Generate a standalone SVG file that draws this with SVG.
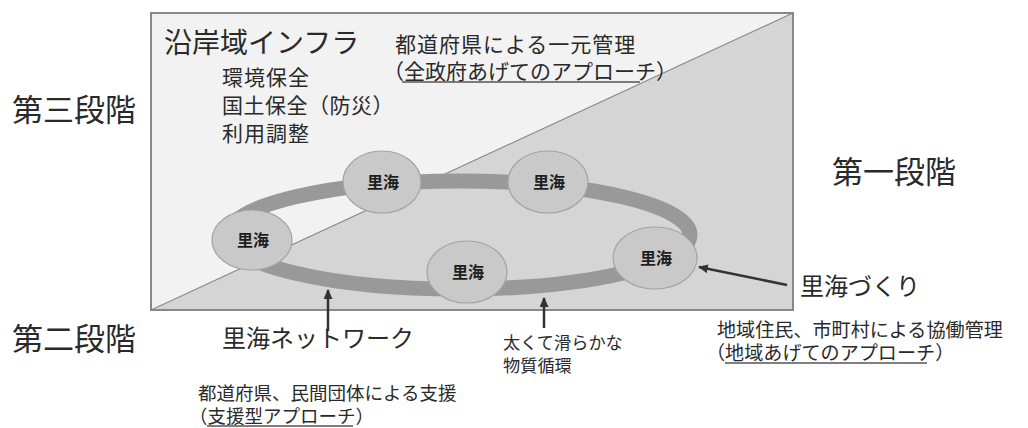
<svg xmlns="http://www.w3.org/2000/svg" width="1028" height="428" viewBox="0 0 1028 428">
<style>
text{font-family:"Liberation Sans","Noto Sans CJK JP",sans-serif;fill:#2a2a2a}
.stage{font-size:31px}
.big{font-size:28px}
.mid{font-size:21px}
.lbl{font-size:24px}
.sm{font-size:18.5px}
.node ellipse{fill:#c9c9c9;stroke:#a3a3a3;stroke-width:1.2}
.node text{font-size:16px;font-weight:bold;text-anchor:middle;fill:#1e1e1e}
.ul{stroke:#555;stroke-width:1.3}
.arr{stroke:#333;stroke-width:2.5;fill:none}
</style>
<defs>
<marker id="ah" markerUnits="userSpaceOnUse" markerWidth="10" markerHeight="9" refX="9" refY="4.5" orient="auto">
<path d="M0,0 L10,4.5 L0,9 z" fill="#333"/>
</marker>
</defs>
<rect width="1028" height="428" fill="#ffffff"/>
<g id="background">
<polygon points="151,13 793,13 151,310" fill="#f2f2f2"/>
<polygon points="793,13 793,310 151,310" fill="#d5d5d5"/>
<line x1="151" y1="310" x2="793" y2="13" stroke="#8a8a8a" stroke-width="1.2"/>
<rect x="151" y="13" width="642" height="297" fill="none" stroke="#888" stroke-width="2"/>
</g>
<g id="ring">
<ellipse cx="459" cy="235" rx="231" ry="54" fill="none" stroke="#999" stroke-width="15"/>
</g>
<g id="node1" class="node"><ellipse cx="382" cy="182" rx="39" ry="31"/><text x="383" y="188">里海</text></g>
<g id="node2" class="node"><ellipse cx="548" cy="182" rx="40" ry="31"/><text x="549" y="188">里海</text></g>
<g id="node3" class="node"><ellipse cx="252" cy="240" rx="40" ry="30"/><text x="253" y="246">里海</text></g>
<g id="node4" class="node"><ellipse cx="467" cy="272" rx="40" ry="31"/><text x="468" y="278">里海</text></g>
<g id="node5" class="node"><ellipse cx="655" cy="258" rx="42" ry="31"/><text x="656" y="264">里海</text></g>
<g id="connectors">
<line class="arr" x1="328" y1="331" x2="328" y2="290" marker-end="url(#ah)"/>
<line class="arr" x1="544" y1="328" x2="544" y2="298" marker-end="url(#ah)"/>
<line class="arr" x1="787" y1="285" x2="699" y2="267" marker-end="url(#ah)"/>
</g>
<g id="labels">
<text class="stage" x="12" y="121">第三段階</text>
<text class="stage" x="832" y="183">第一段階</text>
<text class="stage" x="12" y="350">第二段階</text>
<text class="big" x="164" y="53">沿岸域インフラ</text>
<text class="mid"><tspan x="222" y="85" letter-spacing="1">環境保全</tspan><tspan x="222" y="113" letter-spacing="0.5">国土保全（防災）</tspan><tspan x="222" y="141" letter-spacing="1">利用調整</tspan></text>
<text class="mid"><tspan x="395" y="52" letter-spacing="1">都道府県による一元管理</tspan><tspan x="383" y="79">（全政府あげてのアプローチ）</tspan></text>
<line class="ul" x1="402" y1="82" x2="640" y2="82"/>
<text class="lbl" x="800" y="295">里海づくり</text>
<text class="lbl" x="222" y="347">里海ネットワーク</text>
<text class="sm"><tspan x="198" y="400">都道府県、民間団体による支援</tspan><tspan x="189" y="423">（支援型アプローチ）</tspan></text>
<line class="ul" x1="207" y1="426" x2="353" y2="426"/>
<text font-size="17.2"><tspan x="503" y="349">太くて滑らかな</tspan><tspan x="503" y="372">物質循環</tspan></text>
<text font-size="19.1"><tspan x="717" y="337">地域住民、市町村による協働管理</tspan><tspan x="706" y="360">（地域あげてのアプローチ）</tspan></text>
<line class="ul" x1="725" y1="363" x2="927" y2="363"/>
</g>
</svg>
